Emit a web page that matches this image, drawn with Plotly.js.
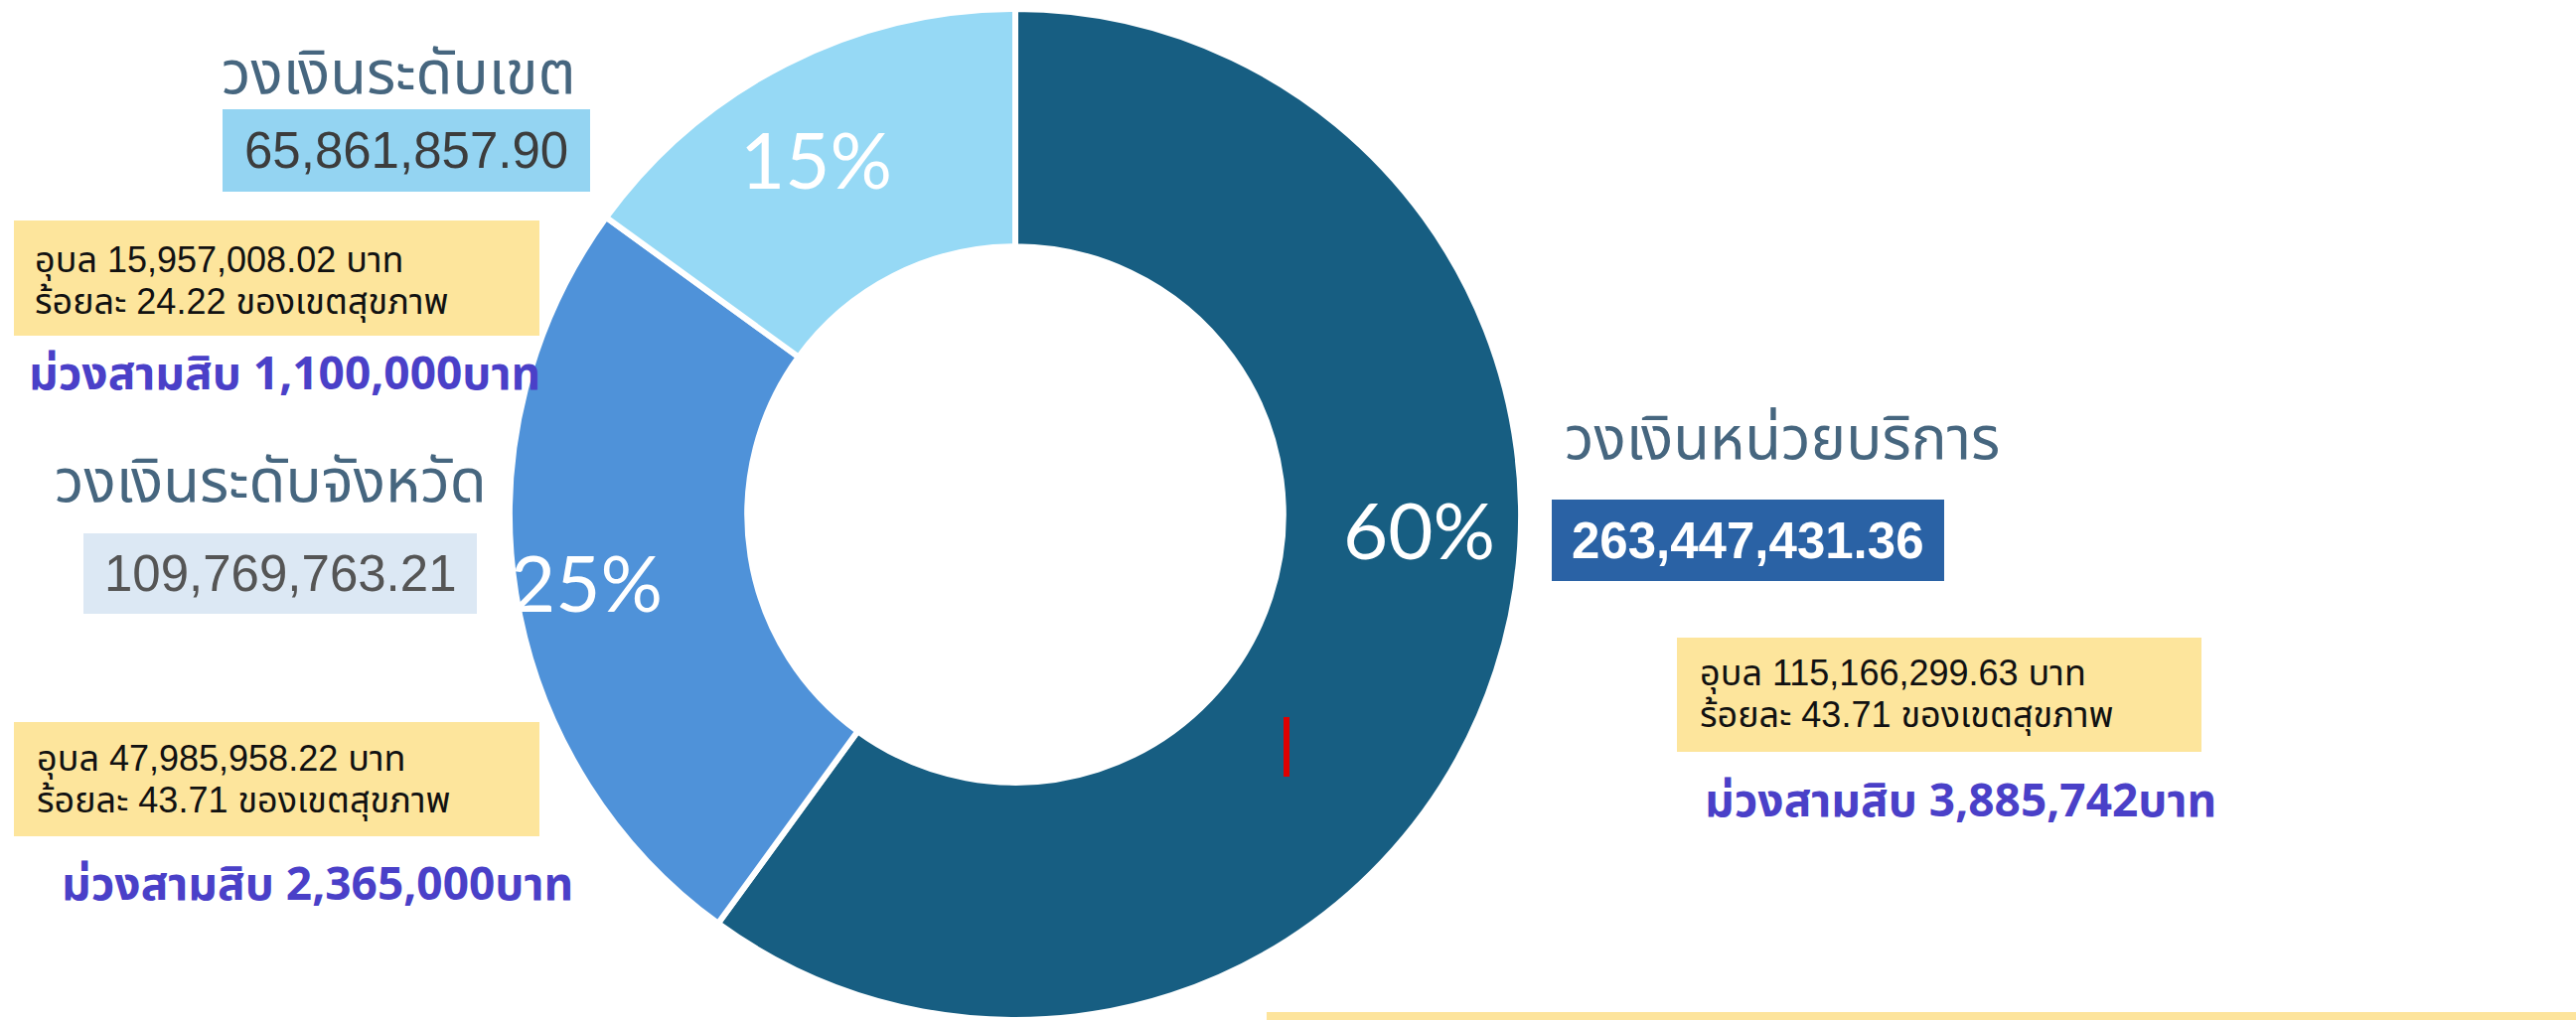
<!DOCTYPE html>
<html>
<head>
<meta charset="utf-8">
<script src="https://cdn.plot.ly/plotly-3.0.1.min.js"></script>
<style>
  html, body { margin: 0; padding: 0; background: #ffffff; overflow: hidden; }
  #chart { width: 2593px; height: 1027px; }
</style>
</head>
<body>
<div id="chart"></div>
<script>
// ---- data ----
const categories = ['วงเงินหน่วยบริการ', 'วงเงินระดับจังหวัด', 'วงเงินระดับเขต'];
const amounts = [263447431.36, 109769763.21, 65861857.90];
const amountLabels = ['263,447,431.36', '109,769,763.21', '65,861,857.90'];
const ubonAmounts = ['115,166,299.63', '47,985,958.22', '15,957,008.02'];
const ubonShares = ['43.71', '43.71', '24.22'];
const muangAmounts = ['3,885,742', '2,365,000', '1,100,000'];
const sliceColors = ['#175e82', '#4f92d9', '#96d9f5'];

const W = 2593, H = 1027;
const px = x => x / W;
const py = y => 1 - y / H;

const total = amounts.reduce((a, b) => a + b, 0);
const pct = amounts.map(v => Math.round(v / total * 100) + '%');

const thaiFont = 'Noto Sans Thai, Noto Sans, sans-serif';
const noteFont = 'Liberation Sans, Noto Sans Thai, sans-serif';
const numFont = 'Liberation Sans, Arial, sans-serif';

const trace = {
  type: 'pie',
  labels: categories,
  values: amounts,
  sort: false,
  direction: 'clockwise',
  rotation: 0,
  hole: 0.53,
  textinfo: 'none',
  hoverinfo: 'label+value+percent',
  marker: { colors: sliceColors, line: { color: '#ffffff', width: 6 } },
  domain: { x: [px(513), px(1531)], y: [0, 1018 / H] },
  showlegend: false
};

// layout of per-slice labels (index into data arrays)
const labelPos = [
  { i: 2, title: [401, 'center', 76], box: [224, 110, 594, 193], boxFill: '#94d4f2', numColor: '#3c3c3c', numBold: false,
    yel: [14, 222, 543, 338], lines: [33, 262, 304], purple: [27, 378] },
  { i: 1, title: [272, 'center', 486], box: [84, 537, 480, 618], boxFill: '#dce8f4', numColor: '#555555', numBold: false,
    yel: [14, 727, 543, 842], lines: [35, 764, 806], purple: [60, 892] },
  { i: 0, title: [1573, 'left', 443], box: [1562, 503, 1957, 585], boxFill: '#2a62a5', numColor: '#ffffff', numBold: true,
    yel: [1688, 642, 2216, 757], lines: [1709, 678, 720], purple: [1714, 808] }
];

const shapes = [];
const annotations = [];

labelPos.forEach(p => {
  const i = p.i;
  shapes.push({ type: 'rect', xref: 'paper', yref: 'paper', layer: 'above',
    x0: px(p.box[0]), x1: px(p.box[2]), y0: py(p.box[3]), y1: py(p.box[1]),
    fillcolor: p.boxFill, line: { width: 0 } });
  shapes.push({ type: 'rect', xref: 'paper', yref: 'paper', layer: 'above',
    x0: px(p.yel[0]), x1: px(p.yel[2]), y0: py(p.yel[3]), y1: py(p.yel[1]),
    fillcolor: '#fde59c', line: { width: 0 } });

  annotations.push({ xref: 'paper', yref: 'paper', x: px(p.title[0]), y: py(p.title[2]),
    xanchor: p.title[1], yanchor: 'middle', showarrow: false, text: categories[i],
    font: { family: thaiFont, size: 60, color: '#46667f' } });
  annotations.push({ xref: 'paper', yref: 'paper', x: px((p.box[0] + p.box[2]) / 2), y: py((p.box[1] + p.box[3]) / 2),
    xanchor: 'center', yanchor: 'middle', showarrow: false,
    text: p.numBold ? '<b>' + amountLabels[i] + '</b>' : amountLabels[i],
    font: { family: numFont, size: 51, color: p.numColor } });
  annotations.push({ xref: 'paper', yref: 'paper', x: px(p.lines[0]), y: py(p.lines[1]),
    xanchor: 'left', yanchor: 'middle', showarrow: false,
    text: 'อุบล ' + ubonAmounts[i] + ' บาท',
    font: { family: noteFont, size: 36, color: '#111111' } });
  annotations.push({ xref: 'paper', yref: 'paper', x: px(p.lines[0]), y: py(p.lines[2]),
    xanchor: 'left', yanchor: 'middle', showarrow: false,
    text: 'ร้อยละ ' + ubonShares[i] + ' ของเขตสุขภาพ',
    font: { family: noteFont, size: 36, color: '#111111' } });
  annotations.push({ xref: 'paper', yref: 'paper', x: px(p.purple[0]), y: py(p.purple[1]),
    xanchor: 'left', yanchor: 'middle', showarrow: false,
    text: '<b>ม่วงสามสิบ ' + muangAmounts[i] + 'บาท</b>',
    font: { family: thaiFont, size: 46, color: '#4a40c8' } });
});

// percent labels on the ring
const pctPos = [[1428, 533], [590, 586], [821, 160]];
pctPos.forEach((pp, i) => {
  annotations.push({ xref: 'paper', yref: 'paper', x: px(pp[0]), y: py(pp[1]),
    xanchor: 'center', yanchor: 'middle', showarrow: false, text: pct[i],
    font: { family: 'Lato, Open Sans, sans-serif', size: 78, color: '#ffffff' } });
});

// red marker line and bottom yellow strip
shapes.push({ type: 'line', xref: 'paper', yref: 'paper', layer: 'above',
  x0: px(1295), x1: px(1295), y0: py(782), y1: py(722), line: { color: '#e00000', width: 6 } });
shapes.push({ type: 'rect', xref: 'paper', yref: 'paper', layer: 'above',
  x0: px(1275), x1: 1, y0: 0, y1: py(1019), fillcolor: '#fde49c', line: { width: 0 } });

const layout = {
  width: W, height: H,
  margin: { l: 0, r: 0, t: 0, b: 0, pad: 0 },
  paper_bgcolor: '#ffffff',
  plot_bgcolor: '#ffffff',
  showlegend: false,
  shapes: shapes,
  annotations: annotations
};

Plotly.newPlot('chart', [trace], layout, { displayModeBar: false, staticPlot: true });
</script>
</body>
</html>
